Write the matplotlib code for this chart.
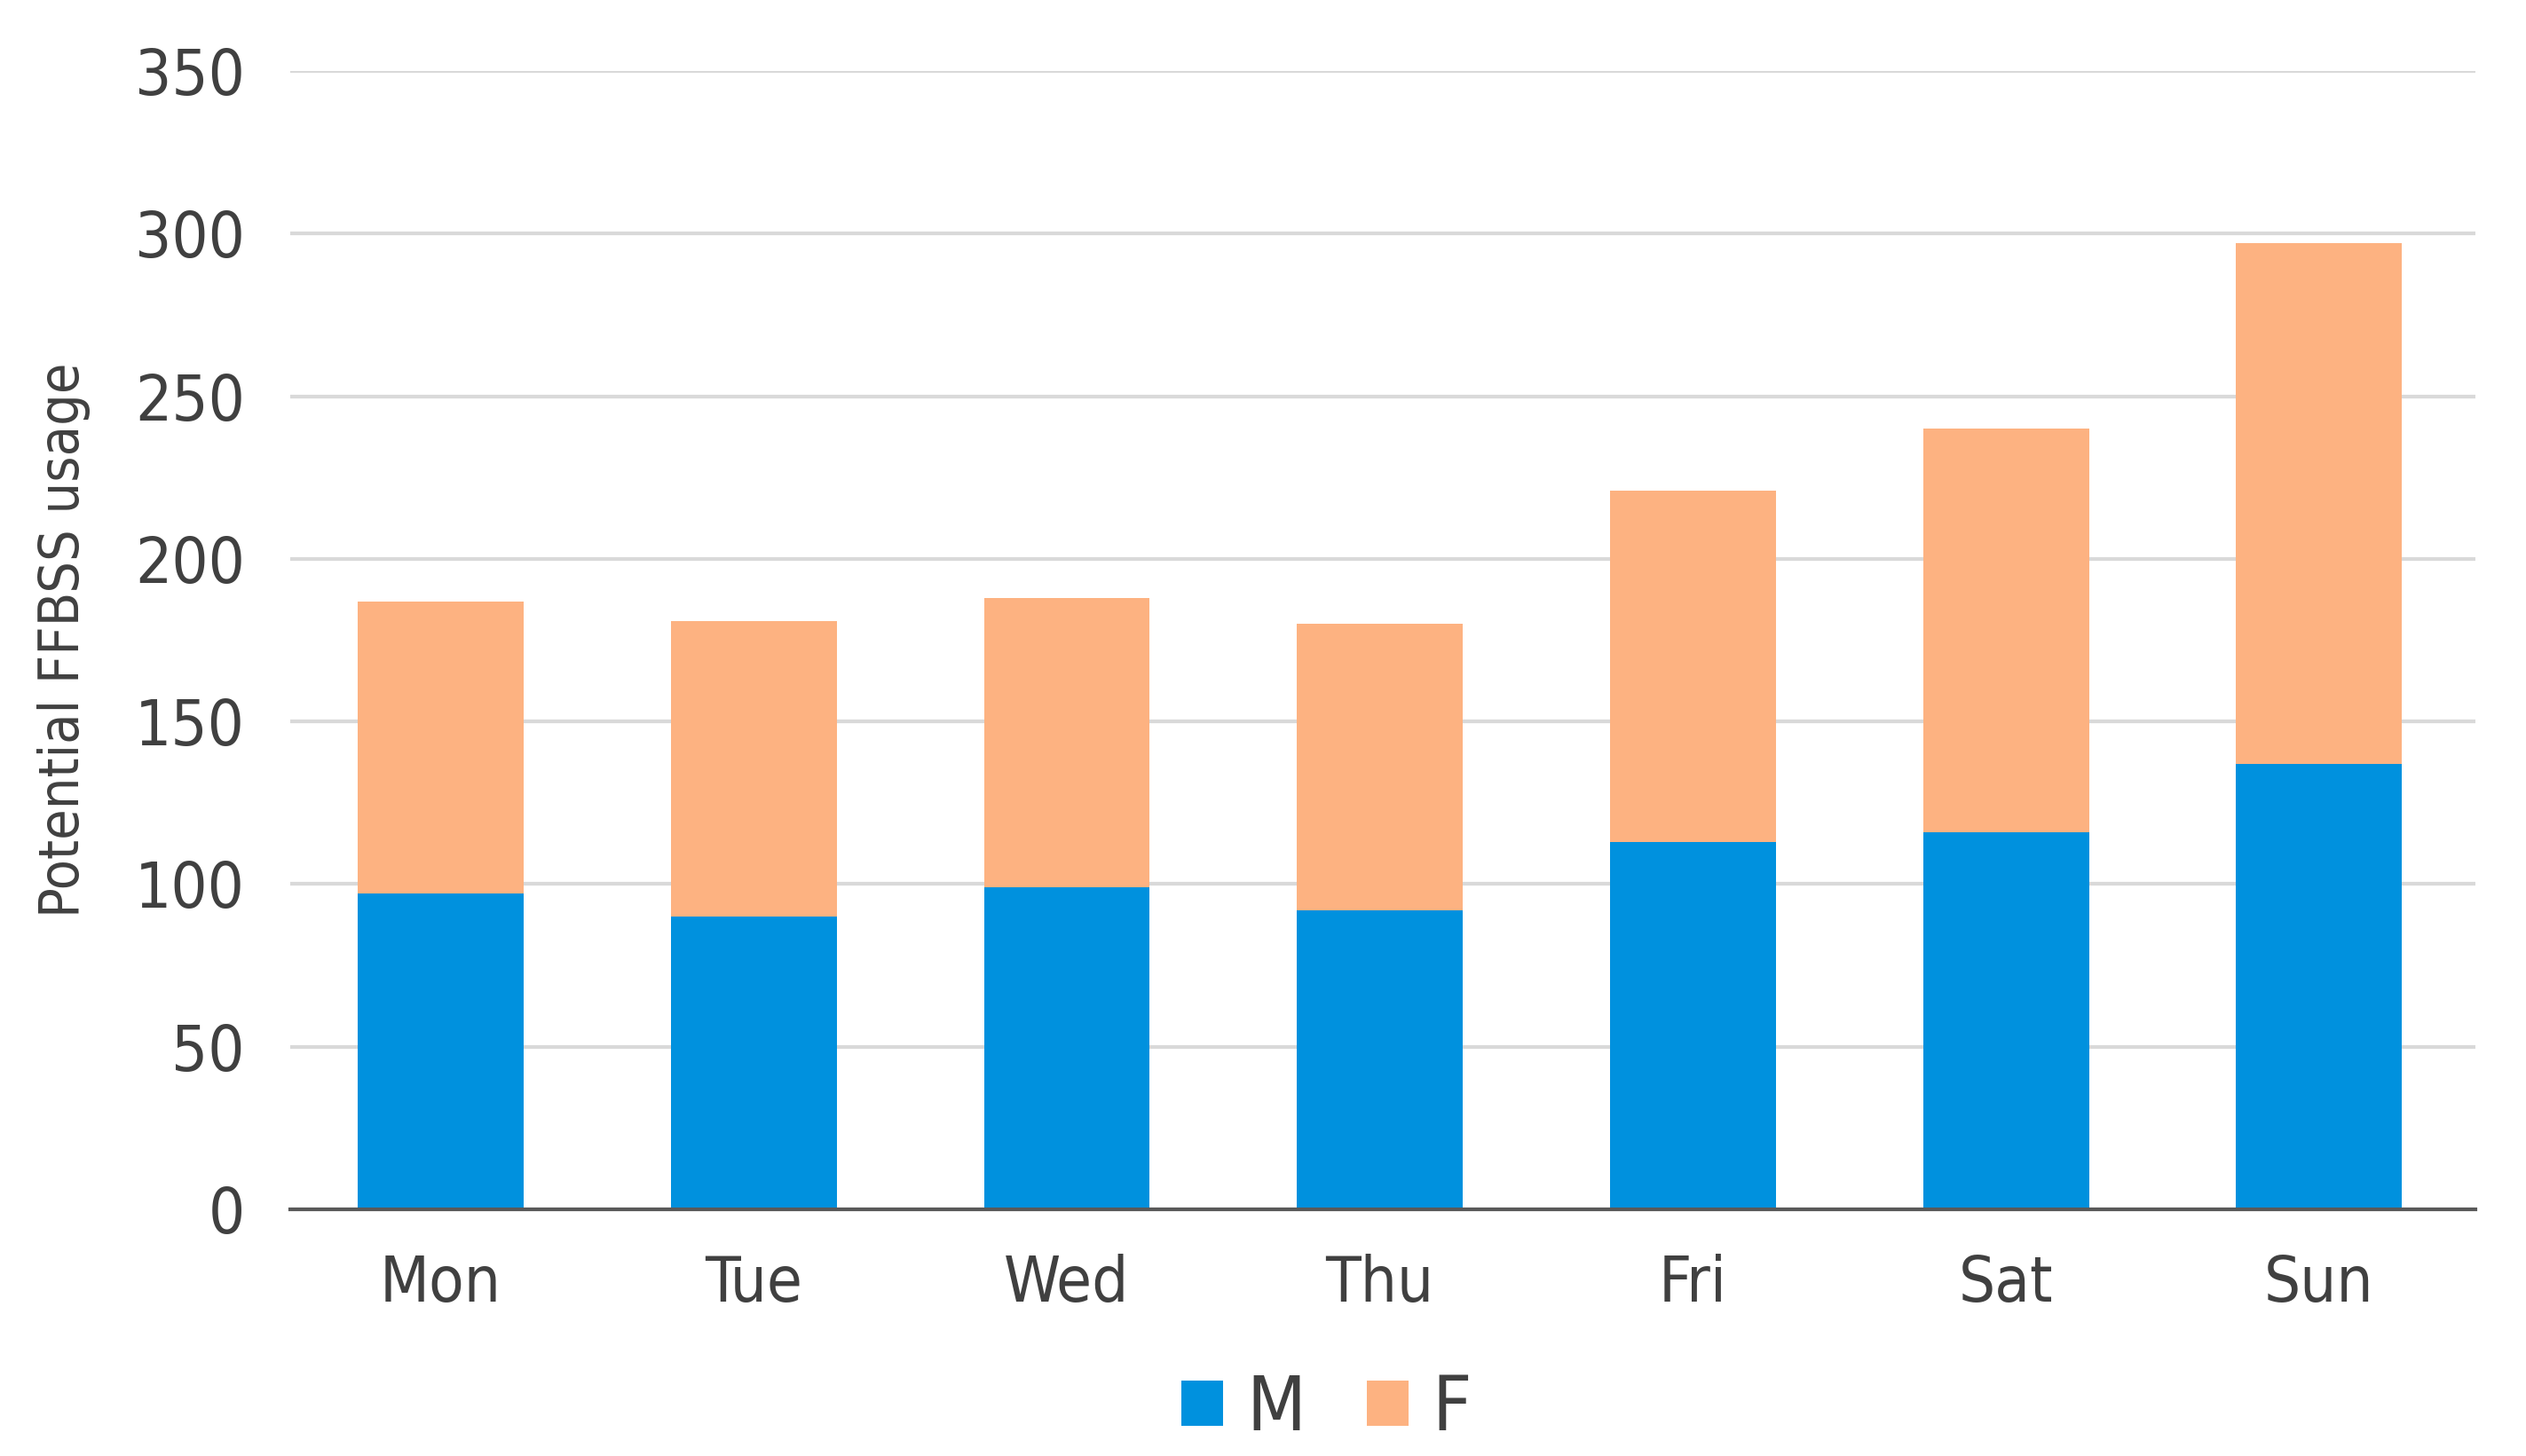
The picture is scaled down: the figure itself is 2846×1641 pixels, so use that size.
import numpy as np
import matplotlib.pyplot as plt

# Data
days = ['Mon', 'Tue', 'Wed', 'Thu', 'Fri', 'Sat', 'Sun']
male = [97, 90, 99, 92, 113, 116, 137]
female = [90, 91, 89, 88, 108, 124, 160]
yticks = [0, 50, 100, 150, 200, 250, 300, 350]

blue = '#0091de'
orange = '#fdb281'
text_col = '#404040'

plt.rcParams['font.family'] = ['DejaVu Sans']
plt.rcParams['font.stretch'] = 'condensed'

fig = plt.figure(figsize=(28.46, 16.41), dpi=100)
ax = fig.add_axes([0.115, 0.1694, 0.865, 0.7818])

x = np.arange(len(days))
ax.bar(x, male, width=0.53, color=blue, label='M', zorder=3)
ax.bar(x, female, width=0.53, bottom=male, color=orange, label='F', zorder=3)

ax.set_xlim(-0.48, 6.5)
ax.set_ylim(0, 350)
ax.set_yticks(yticks)
ax.set_xticks(x)
ax.set_xticklabels(days)
ax.grid(axis='y', color='#d9d9d9', linewidth=3, zorder=0)
for s in ['top', 'right', 'left']:
    ax.spines[s].set_visible(False)
ax.spines['bottom'].set_color('#595959')
ax.spines['bottom'].set_linewidth(3)
ax.spines['bottom'].set_zorder(4)
ax.tick_params(axis='both', length=0, labelsize=52, colors=text_col)
ax.tick_params(axis='y', pad=37)
ax.tick_params(axis='x', pad=36)
ax.set_ylabel('Potential FFBSS usage', fontsize=45, color=text_col, labelpad=36)

leg = fig.legend(loc='center', bbox_to_anchor=(0.525, 0.032), ncol=2, frameon=False,
                 fontsize=62, handlelength=0.55, handleheight=0.55, handletextpad=0.3,
                 columnspacing=0.8, labelcolor=text_col)

fig.savefig('out.png', dpi=100)
